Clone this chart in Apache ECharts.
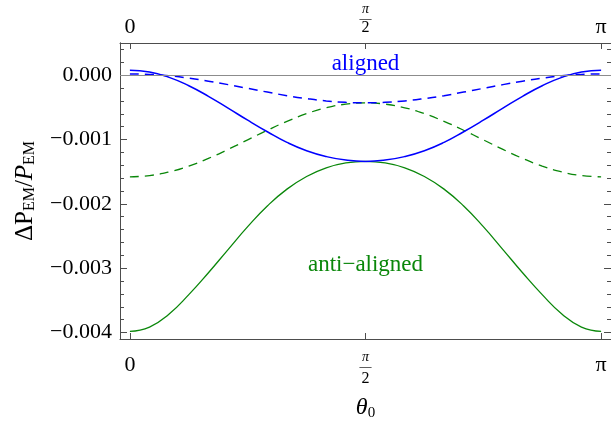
<!DOCTYPE html>
<html>
<head>
<meta charset="utf-8">
<script src="https://cdn.jsdelivr.net/npm/echarts@6/dist/echarts.min.js"></script>
<style>
  html, body { margin: 0; padding: 0; background: #fff; }
  #chart { width: 611px; height: 426px; }
</style>
</head>
<body>
<div id="chart"></div>
<script>
const theta = [0, 0.1309, 0.2618, 0.3927, 0.5236, 0.6545, 0.7854, 0.9163, 1.0472, 1.1781, 1.3090, 1.4399, 1.5708,
  1.7017, 1.8326, 1.9635, 2.0944, 2.2253, 2.3562, 2.4871, 2.6180, 2.7489, 2.8798, 3.0107, 3.1416]

const alignedSolid = [0.000078, 0.000049, -0.000034, -0.000164, -0.000328, -0.000512, -0.000700, -0.000879, -0.001045,
  -0.001175, -0.001265, -0.001320, -0.001340, -0.001320, -0.001265, -0.001175, -0.001045, -0.000879, -0.000700,
  -0.000512, -0.000328, -0.000164, -0.000034, 0.000049, 0.000078]
const alignedDashed = [0.000020, 0.000012, -0.000010, -0.000046, -0.000093, -0.000147, -0.000205, -0.000263, -0.000318,
  -0.000364, -0.000400, -0.000422, -0.000430, -0.000422, -0.000400, -0.000364, -0.000318, -0.000263, -0.000205,
  -0.000147, -0.000093, -0.000046, -0.000010, 0.000012, 0.000020]
const antiSolid = [-0.003980, -0.003915, -0.003710, -0.003410, -0.003070, -0.002710, -0.002354, -0.002033, -0.001771,
  -0.001574, -0.001440, -0.001364, -0.001340, -0.001364, -0.001440, -0.001574, -0.001771, -0.002033, -0.002354,
  -0.002710, -0.003070, -0.003410, -0.003710, -0.003915, -0.003980]
const antiDashed = [-0.001580, -0.001560, -0.001503, -0.001412, -0.001293, -0.001154, -0.001005, -0.000856, -0.000718,
  -0.000598, -0.000507, -0.000450, -0.000430, -0.000450, -0.000507, -0.000598, -0.000718, -0.000856, -0.001005,
  -0.001154, -0.001293, -0.001412, -0.001503, -0.001560, -0.001580]

const xTicks = [0, Math.PI / 2, Math.PI]
const yMajorTicks = [-0.004, -0.003, -0.002, -0.001, 0]
const yMinorTicks = [-0.0038, -0.0036, -0.0034, -0.0032, -0.0028, -0.0026, -0.0024, -0.0022, -0.0018, -0.0016,
  -0.0014, -0.0012, -0.0008, -0.0006, -0.0004, -0.0002, 0.0002, 0.0004]

const FONT = 'Liberation Serif'
const FRAME = '#4d4d4d'
const BLUE = '#0000ff'
const GREEN = '#0a870a'

const pairs = (ys) => theta.map((t, i) => [t, ys[i]])

const xLabel = (v) => {
  if (Math.abs(v) < 1e-6) return '{n|0}'
  if (Math.abs(v - Math.PI / 2) < 1e-6) return '{p|π}\n{b|—}\n{d|2}'
  return '{n|π}'
}

// top and bottom labels need the plain numbers nudged away from the frame
const xRich = (pos) => ({
  n: {
    fontFamily: FONT, fontSize: 22, color: '#000', lineHeight: 22,
    padding: pos === 'bottom' ? [5, 0, 0, 0] : [0, 0, 0, 0]
  },
  p: { fontFamily: FONT, fontSize: 14, fontStyle: 'italic', color: '#000', lineHeight: 11 },
  b: { fontFamily: FONT, fontSize: 12, color: '#000', lineHeight: 8 },
  d: {
    fontFamily: FONT, fontSize: 16, color: '#000', lineHeight: 15,
    padding: pos === 'top' ? [0, 0, 5, 0] : [0, 0, 0, 0]
  }
})

const xAxisBase = (pos) => ({
  type: 'value',
  position: pos,
  min: -0.066,
  max: Math.PI + 0.066,
  axisLine: { show: true, onZero: false, lineStyle: { color: FRAME, width: 1 } },
  axisTick: { show: true, inside: true, length: 6, customValues: xTicks, lineStyle: { color: FRAME } },
  axisLabel: {
    show: true,
    customValues: xTicks,
    margin: pos === 'bottom' ? 13 : 5,
    formatter: xLabel,
    rich: xRich(pos)
  },
  splitLine: { show: false }
})

const yAxisBase = (pos, ticks, len, labels) => ({
  type: 'value',
  position: pos,
  min: -0.0041,
  max: 0.0005,
  axisLine: { show: true, onZero: false, lineStyle: { color: FRAME, width: 1 } },
  axisTick: { show: true, inside: true, length: len, customValues: ticks, lineStyle: { color: FRAME } },
  axisLabel: labels ? {
    show: true,
    customValues: ticks,
    margin: 8,
    fontFamily: FONT,
    fontSize: 22,
    color: '#000',
    formatter: (v) => Math.abs(v) < 1e-9 ? '0.000' : '\u2212' + Math.abs(v).toFixed(3)
  } : { show: false },
  splitLine: { show: false }
})

const chart = echarts.init(document.getElementById('chart'))

const yMain = yAxisBase('left', yMajorTicks, 7, true)
yMain.name = '{n|ΔP}{s|EM}{n|/}{i|P}{s|EM}'
yMain.nameLocation = 'middle'
yMain.nameRotate = 90
yMain.nameGap = 82
yMain.nameTextStyle = {
  rich: {
    n: { fontFamily: FONT, fontSize: 25, color: '#000', lineHeight: 26, verticalAlign: 'middle' },
    i: { fontFamily: FONT, fontSize: 25, fontStyle: 'italic', color: '#000', lineHeight: 26, verticalAlign: 'middle' },
    s: { fontFamily: FONT, fontSize: 16, color: '#000', lineHeight: 16, verticalAlign: 'bottom' }
  }
}

const xMain = xAxisBase('bottom')
xMain.name = '{i|θ}{s|0}'
xMain.nameLocation = 'middle'
xMain.nameGap = 56
xMain.nameTextStyle = {
  rich: {
    i: { fontFamily: FONT, fontSize: 24, fontStyle: 'italic', color: '#000', lineHeight: 26, verticalAlign: 'middle' },
    s: { fontFamily: FONT, fontSize: 15, color: '#000', lineHeight: 15, verticalAlign: 'bottom' }
  }
}

const option = {
  animation: false,
  backgroundColor: '#fff',
  grid: { left: 120, top: 43, width: 492, height: 296 },
  xAxis: [xMain, xAxisBase('top')],
  yAxis: [
    yMain,
    yAxisBase('left', yMinorTicks, 4, false),
    yAxisBase('right', yMajorTicks, 7, false),
    yAxisBase('right', yMinorTicks, 4, false)
  ],
  series: [
    {
      name: 'aligned dashed',
      type: 'line',
      data: pairs(alignedDashed),
      smooth: true,
      showSymbol: false,
      lineStyle: { color: BLUE, width: 1.5, type: [9, 6] },
      markLine: {
        silent: true,
        symbol: ['none', 'none'],
        label: { show: false },
        lineStyle: { color: '#8c8c8c', width: 1, type: 'solid' },
        data: [{ yAxis: 0 }]
      },
      z: 3
    },
    {
      name: 'aligned',
      type: 'line',
      data: pairs(alignedSolid),
      smooth: true,
      showSymbol: false,
      lineStyle: { color: BLUE, width: 1.5 },
      markPoint: {
        silent: true,
        symbolSize: 0,
        label: { show: true, position: 'inside', formatter: 'aligned', color: BLUE, fontFamily: FONT, fontSize: 23 },
        data: [{ coord: [Math.PI / 2, 0.00017] }]
      },
      z: 4
    },
    {
      name: 'anti-aligned dashed',
      type: 'line',
      data: pairs(antiDashed),
      smooth: true,
      showSymbol: false,
      lineStyle: { color: GREEN, width: 1.3, type: [9, 6] },
      z: 2
    },
    {
      name: 'anti-aligned',
      type: 'line',
      data: pairs(antiSolid),
      smooth: true,
      showSymbol: false,
      lineStyle: { color: GREEN, width: 1.3 },
      markPoint: {
        silent: true,
        symbolSize: 0,
        label: { show: true, position: 'inside', formatter: 'anti\u2212aligned', color: GREEN, fontFamily: FONT, fontSize: 23 },
        data: [{ coord: [Math.PI / 2, -0.00295] }]
      },
      z: 2
    }
  ]
}

chart.setOption(option)
</script>
</body>
</html>
